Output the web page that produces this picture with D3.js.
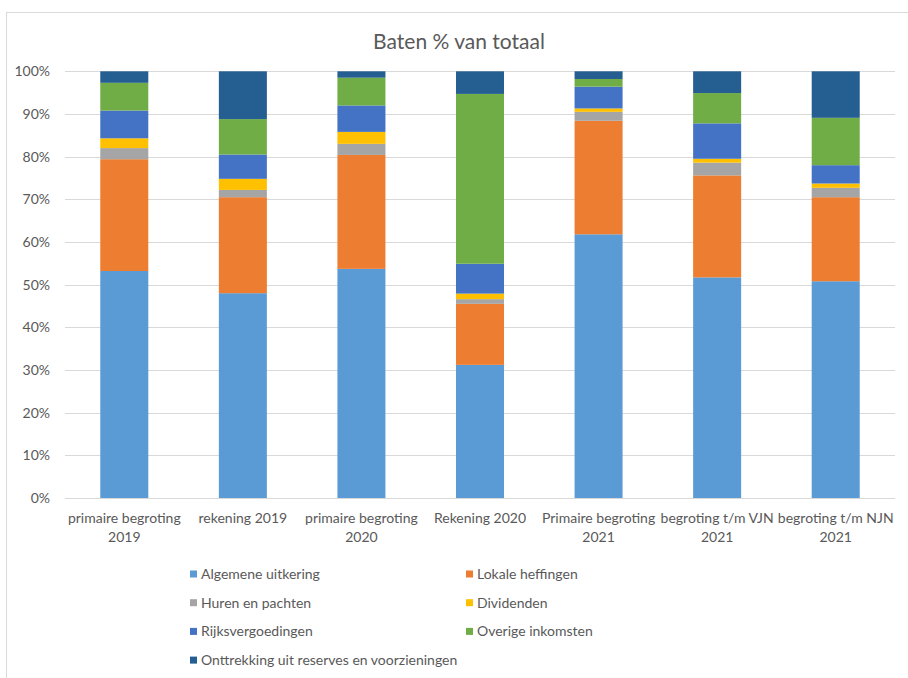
<!DOCTYPE html>
<meta charset="utf-8">
<style>
body { margin: 0; background: #fff; }
svg text { font-family: Lato, "Open Sans", sans-serif; fill: #595959; }
.grid line { stroke: #d9d9d9; shape-rendering: crispEdges; }
</style>
<svg id="chart" width="908" height="678"></svg>
<script src="https://cdn.jsdelivr.net/npm/d3@7"></script>
<script>

// categories (two lines each)
var categories = [
  ["primaire begroting", "2019"],
  ["rekening 2019"],
  ["primaire begroting", "2020"],
  ["Rekening 2020"],
  ["Primaire begroting", "2021"],
  ["begroting t/m VJN", "2021"],
  ["begroting t/m NJN", "2021"]
];

var seriesNames = [
  "Algemene uitkering",
  "Lokale heffingen",
  "Huren en pachten",
  "Dividenden",
  "Rijksvergoedingen",
  "Overige inkomsten",
  "Onttrekking uit reserves en voorzieningen"
];

var colors = ["#5b9bd5", "#ed7d31", "#a5a5a5", "#ffc000", "#4472c4", "#70ad47", "#255e91"];

// percentages per series, one value per category
var algemene   = [53.2, 48.0, 53.7, 31.2, 61.8, 51.7, 50.8];
var lokale     = [26.2, 22.5, 26.7, 14.3, 26.6, 23.9, 19.7];
var huren      = [2.6, 1.7, 2.6, 1.1, 2.1, 3.0, 2.2];
var dividenden = [2.3, 2.6, 2.8, 1.3, 0.8, 0.9, 1.0];
var rijks      = [6.5, 5.7, 6.2, 7.0, 5.1, 8.3, 4.3];
var overige    = [6.5, 8.3, 6.5, 39.8, 1.8, 7.1, 11.1];
var onttrek    = [2.7, 11.2, 1.5, 5.3, 1.8, 5.1, 10.9];

var yTicks = [0, 10, 20, 30, 40, 50, 60, 70, 80, 90, 100];

var svg = d3.select("#chart");

// chart frame
svg.append("rect")
    .attr("x", 6.5).attr("y", 12.5)
    .attr("width", 1000).attr("height", 1000)
    .attr("fill", "none")
    .attr("stroke", "#d9d9d9");

var plotLeft = 65, plotRight = 895, plotTop = 71.3, plotBottom = 498;

var table = categories.map(function(c, i) {
  return {
    key: i,
    s0: algemene[i], s1: lokale[i], s2: huren[i], s3: dividenden[i],
    s4: rijks[i], s5: overige[i], s6: onttrek[i]
  };
});

var keys = ["s0", "s1", "s2", "s3", "s4", "s5", "s6"];

var x = d3.scaleBand()
    .domain(d3.range(categories.length))
    .range([plotLeft, plotRight])
    .paddingInner(0.595)
    .paddingOuter(0.2975);

var y = d3.scaleLinear()
    .domain([0, 100])
    .range([plotBottom, plotTop]);

// gridlines
svg.append("g")
    .attr("class", "grid")
    .selectAll("line").data(yTicks).enter().append("line")
    .attr("x1", plotLeft).attr("x2", plotRight)
    .attr("y1", function(d) { return Math.round(y(d)) + 0.5; })
    .attr("y2", function(d) { return Math.round(y(d)) + 0.5; });

// y labels
svg.append("g")
    .selectAll("text").data(yTicks).enter().append("text")
    .attr("x", 50)
    .attr("y", function(d) { return y(d); })
    .attr("dy", "0.35em")
    .attr("text-anchor", "end")
    .attr("font-size", 14)
    .text(function(d) { return d + "%"; });

var stack = d3.stack().keys(keys)(table);

svg.append("g")
    .selectAll("g").data(stack).enter().append("g")
    .attr("fill", function(d, i) { return colors[i]; })
    .selectAll("rect").data(function(d) { return d; }).enter().append("rect")
    .attr("x", function(d) { return x(d.data.key); })
    .attr("width", x.bandwidth())
    .attr("y", function(d) { return y(d[1]); })
    .attr("height", function(d) { return y(d[0]) - y(d[1]); });

// x labels
var xl = svg.append("g")
    .selectAll("text").data(categories).enter().append("text")
    .attr("x", function(d, i) { return x(i) + x.bandwidth() / 2; })
    .attr("y", 523)
    .attr("text-anchor", "middle")
    .attr("font-size", 14);

xl.selectAll("tspan").data(function(d) { return d; }).enter().append("tspan")
    .attr("x", function() { return d3.select(this.parentNode).attr("x"); })
    .attr("dy", function(d, i) { return i ? 19 : 0; })
    .text(function(d) { return d; });

// title
svg.append("text")
    .attr("x", 459)
    .attr("y", 49)
    .attr("text-anchor", "middle")
    .attr("font-size", 21)
    .text("Baten % van totaal");

// legend
var legend = svg.append("g")
    .selectAll("g").data(seriesNames).enter().append("g")
    .attr("transform", function(d, i) {
      return "translate(" + (i % 2 ? 466 : 190) + "," + (574 + Math.floor(i / 2) * 28.7) + ")";
    });

legend.append("rect")
    .attr("y", -3.5)
    .attr("width", 7).attr("height", 7)
    .attr("fill", function(d, i) { return colors[i]; });

legend.append("text")
    .attr("x", 11)
    .attr("dy", "0.35em")
    .attr("font-size", 14)
    .text(function(d) { return d; });

</script>
